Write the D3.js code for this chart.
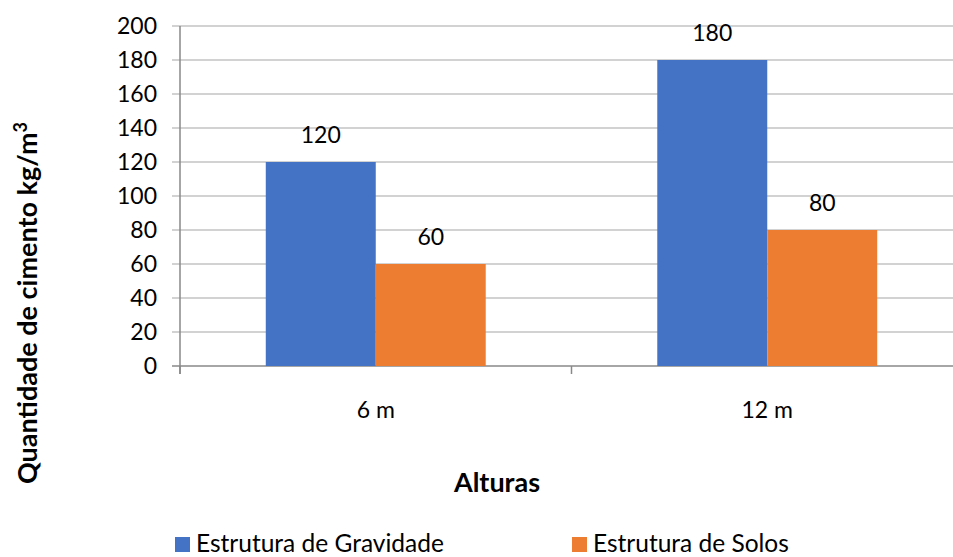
<!DOCTYPE html>
<html><head><meta charset="utf-8">
<script src="https://cdn.jsdelivr.net/npm/d3@7"></script>
<style>body{margin:0;background:#fff;} text{font-family:Lato,"Open Sans",sans-serif;fill:#000;}</style>
</head><body>
<svg id="c" width="953" height="557"></svg>
<script>
const categories = ["6 m", "12 m"];
const seriesNames = ["Estrutura de Gravidade", "Estrutura de Solos"];
const gravidade = [120, 180];
const solos = [60, 80];
const yTicks = [0, 20, 40, 60, 80, 100, 120, 140, 160, 180, 200];
const colors = ["#4472C4", "#ED7D31"];

const svg = d3.select("#c");
const pLeft = 180, pRight = 963, pTop = 26, pBottom = 366;
const x = d3.scaleBand().domain(categories).range([pLeft, pRight]);
const xs = d3.scaleBand().domain(seriesNames).range([0, x.bandwidth()]).paddingInner(0).paddingOuter(0.78);
const y = d3.scaleLinear().domain([0, 200]).range([pBottom, pTop]);

// gridlines
svg.append("g").selectAll("line").data(yTicks).join("line")
  .attr("x1", pLeft - 8).attr("x2", pRight).attr("y1", d => y(d)).attr("y2", d => y(d))
  .attr("stroke", d => d === 0 ? "#898989" : "#a6a6a6").attr("stroke-width", d => d === 0 ? 1.5 : 1.2);
// y axis line
svg.append("line").attr("x1", pLeft).attr("x2", pLeft).attr("y1", pTop).attr("y2", pBottom + 8)
  .attr("stroke", "#898989").attr("stroke-width", 1.5);
// x ticks at band boundaries
const bounds = categories.map(c => x(c)).concat([pRight]);
svg.append("g").selectAll("line").data(bounds).join("line")
  .attr("x1", d => d).attr("x2", d => d).attr("y1", pBottom).attr("y2", pBottom + 8)
  .attr("stroke", "#898989").attr("stroke-width", 1.5);

// y labels
svg.append("g").selectAll("text").data(yTicks).join("text")
  .attr("x", 157).attr("y", d => y(d)).attr("dy", "0.36em").attr("text-anchor", "end")
  .attr("font-size", 23).text(d => d);

// bars
const data = [gravidade, solos];
data.forEach((vals, si) => {
  const g = svg.append("g");
  g.selectAll("rect").data(vals).join("rect")
    .attr("x", (d, i) => x(categories[i]) + xs(seriesNames[si]))
    .attr("width", xs.bandwidth())
    .attr("y", d => y(d)).attr("height", d => y(0) - y(d))
    .attr("fill", colors[si]);
  g.selectAll("text").data(vals).join("text")
    .attr("x", (d, i) => x(categories[i]) + xs(seriesNames[si]) + xs.bandwidth() / 2)
    .attr("y", d => y(d) - 19).attr("text-anchor", "middle").attr("font-size", 23).text(d => d);
});

// x labels
svg.append("g").selectAll("text").data(categories).join("text")
  .attr("x", d => x(d) + x.bandwidth() / 2).attr("y", 418).attr("text-anchor", "middle")
  .attr("font-size", 23).text(d => d);

// axis titles
svg.append("text").attr("x", 497).attr("y", 492).attr("text-anchor", "middle")
  .attr("font-size", 27).attr("font-weight", "bold").text("Alturas");
const yt = svg.append("text").attr("transform", "translate(37,303) rotate(-90)")
  .attr("text-anchor", "middle").attr("font-size", 27).attr("font-weight", "bold");
yt.append("tspan").text("Quantidade de cimento kg/m");
yt.append("tspan").attr("font-size", 18).attr("dy", -10).text("3");

// legend
const legX = [175, 572];
seriesNames.forEach((n, i) => {
  svg.append("rect").attr("x", legX[i]).attr("y", 537).attr("width", 15).attr("height", 15).attr("fill", colors[i]);
  svg.append("text").attr("x", legX[i] + 21).attr("y", 552).attr("font-size", 24.5).text(n);
});
</script>
</body></html>
